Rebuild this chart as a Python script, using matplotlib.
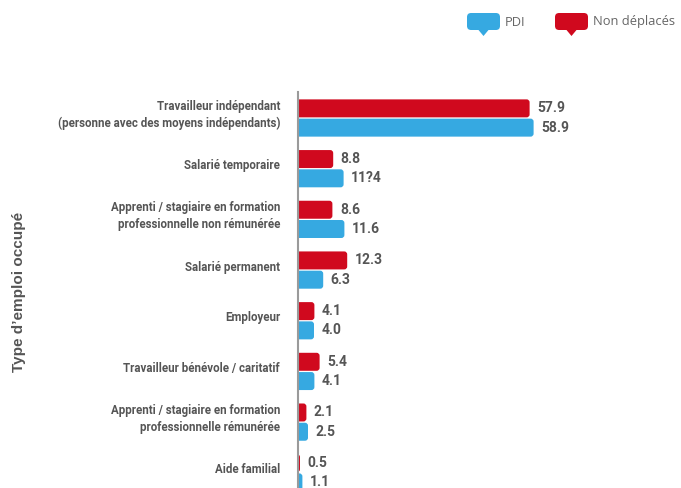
import matplotlib
matplotlib.use('Agg')
import matplotlib.pyplot as plt
from matplotlib.patches import FancyBboxPatch, Polygon
import numpy as np

# Données
categories = [
    "Travailleur indépendant\n(personne avec des moyens indépendants)",
    "Salarié temporaire",
    "Apprenti / stagiaire en formation\nprofessionnelle non rémunérée",
    "Salarié permanent",
    "Employeur",
    "Travailleur bénévole / caritatif",
    "Apprenti / stagiaire en formation\nprofessionnelle rémunérée",
    "Aide familial",
]
non_deplaces = [57.9, 8.8, 8.6, 12.3, 4.1, 5.4, 2.1, 0.5]
pdi = [58.9, 11.4, 11.6, 6.3, 4.0, 4.1, 2.5, 1.1]
labels_nd = ["57.9", "8.8", "8.6", "12.3", "4.1", "5.4", "2.1", "0.5"]
labels_pdi = ["58.9", "11?4", "11.6", "6.3", "4.0", "4.1", "2.5", "1.1"]

BLUE = "#36A9E1"
RED = "#D0091E"
GRAY = "#555555"

fig = plt.figure(figsize=(6.81, 4.88), dpi=100)
ax = fig.add_axes([298 / 681, 0, 1 - 298 / 681, 1 - 92 / 488])

ax.set_xlim(0, 95.75)
ax.set_ylim(7.30, -0.513)

y = np.arange(len(categories))
off = 0.19
h = 0.355

def rounded_bars(vals, pos, color):
    for v, p in zip(vals, pos):
        patch = FancyBboxPatch((-3, p - h / 2), v + 3, h,
                               boxstyle="round,pad=0,rounding_size=0.75",
                               mutation_aspect=0.079,
                               facecolor=color, edgecolor="none", clip_on=True)
        ax.add_patch(patch)

rounded_bars(non_deplaces, y - off, RED)
rounded_bars(pdi, y + off, BLUE)

# Valeurs
for v, p, t in zip(non_deplaces, y - off, labels_nd):
    ax.text(v + 1.9, p, t, va="center", ha="left", fontsize=10,
            fontweight="bold", color=GRAY, family="Roboto")
for v, p, t in zip(pdi, y + off, labels_pdi):
    ax.text(v + 1.9, p, t, va="center", ha="left", fontsize=10,
            fontweight="bold", color=GRAY, family="Roboto", clip_on=False)

# Libellés des catégories
for p, c in zip(y, categories):
    ax.text(-4.5, p - 0.06, c, ha="right", va="center", fontsize=8.3,
            fontweight="bold", color=GRAY, linespacing=1.4,
            family="Roboto")

for s in ["top", "right", "bottom"]:
    ax.spines[s].set_visible(False)
ax.spines["left"].set_color("#9a9a9a")
ax.spines["left"].set_linewidth(1.5)
ax.set_xticks([])
ax.set_yticks([])

fig.text(19 / 681, 1 - 292 / 488, "Type d’emploi occupé", rotation=90,
         ha="center", va="center", fontsize=11, fontweight="bold",
         color=GRAY, family="Liberation Sans")

# Légende (bulles)
def bubble(x0, x1, y0, y1, color):
    W, H = 681, 488
    b = FancyBboxPatch((x0 / W, 1 - y1 / H), (x1 - x0) / W, (y1 - y0) / H,
                       boxstyle="round,pad=0,rounding_size=0.006",
                       mutation_aspect=681 / 488,
                       transform=fig.transFigure, facecolor=color,
                       edgecolor="none")
    fig.patches.append(b)
    cx = (x0 + x1) / 2
    tri = Polygon([((cx - 5) / W, 1 - y1 / H), ((cx + 5) / W, 1 - y1 / H),
                   (cx / W, 1 - (y1 + 6) / H)], closed=True,
                  transform=fig.transFigure, facecolor=color, edgecolor="none")
    fig.patches.append(tri)

bubble(467, 500, 13, 30, BLUE)
fig.text(505 / 681, 1 - 22 / 488, "PDI", ha="left", va="center",
         fontsize=9.3, color="#666666", family="Open Sans")
bubble(555, 588, 13, 30, RED)
fig.text(593 / 681, 1 - 22 / 488, "Non déplacés", ha="left", va="center",
         fontsize=9.3, color="#666666", family="Open Sans")

fig.savefig("out.png", dpi=100)
